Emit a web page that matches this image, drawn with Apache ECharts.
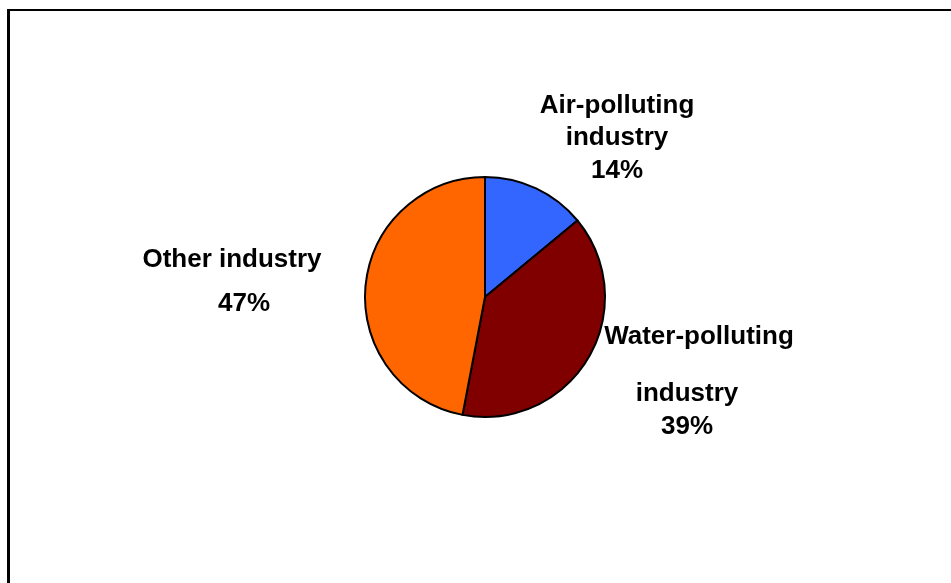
<!DOCTYPE html>
<html>
<head>
<meta charset="utf-8">
<script src="https://cdn.jsdelivr.net/npm/echarts@6/dist/echarts.min.js"></script>
<style>
html,body{margin:0;padding:0;background:#fff;}
#chart{width:951px;height:583px;}
</style>
</head>
<body>
<div id="chart"></div>
<script>
// ---- data ----
const categories = ['Air-polluting industry', 'Water-polluting industry', 'Other industry'];
const values = [14, 39, 47];
const colors = ['#3366FF', '#800000', '#FF6600'];

// ---- label styling / placement ----
const labelPos = [
  { x: 617, y: 138 },
  { x: 687, y: 382 },
  { x: 232, y: 282 }
];

function labelText(p) {
  const pct = Math.round(p.percent) + '%';
  if (p.dataIndex === 0) {
    return '{a|Air-polluting}\n{a|industry}\n{a|' + pct + '}';
  } else if (p.dataIndex === 1) {
    return '{w|Water-polluting}\n{g| }\n{b|industry}\n{b|' + pct + '}';
  } else {
    return '{o|Other industry}\n{p|' + pct + '}';
  }
}

const font = { fontFamily: '"Liberation Sans", Arial, sans-serif', fontWeight: 'bold', fontSize: 26, color: '#000' };

const chart = echarts.init(document.getElementById('chart'), null, { renderer: 'canvas' });
chart.setOption({
  animation: false,
  backgroundColor: '#fff',
  graphic: [{
    type: 'line',
    shape: { x1: 8.5, y1: 9, x2: 8.5, y2: 600 },
    style: { stroke: '#000', lineWidth: 3 },
    silent: true
  }, {
    type: 'line',
    shape: { x1: 7, y1: 10, x2: 960, y2: 10 },
    style: { stroke: '#000', lineWidth: 2 },
    silent: true
  }],
  series: [{
    type: 'pie',
    center: [485, 297],
    radius: 120,
    startAngle: 90,
    clockwise: true,
    avoidLabelOverlap: false,
    data: categories.map((c, i) => ({ name: c, value: values[i], itemStyle: { color: colors[i] } })),
    itemStyle: { borderColor: '#000', borderWidth: 2 },
    labelLine: { show: false },
    label: {
      show: true,
      position: 'outside',
      formatter: labelText,
      align: 'center',
      rich: {
        a: Object.assign({ lineHeight: 32.5 }, font),
        w: Object.assign({ lineHeight: 33, padding: [0, 0, 0, 24] }, font),
        g: Object.assign({ lineHeight: 24 }, font, { fontSize: 10 }),
        b: Object.assign({ lineHeight: 33 }, font),
        o: Object.assign({ lineHeight: 44 }, font),
        p: Object.assign({ lineHeight: 44, padding: [0, 0, 0, 24] }, font)
      }
    },
    labelLayout: function (params) {
      const p = labelPos[params.dataIndex];
      return { x: p.x, y: p.y, align: 'center', verticalAlign: 'middle' };
    },
    emphasis: { disabled: true }
  }]
});
</script>
</body>
</html>
